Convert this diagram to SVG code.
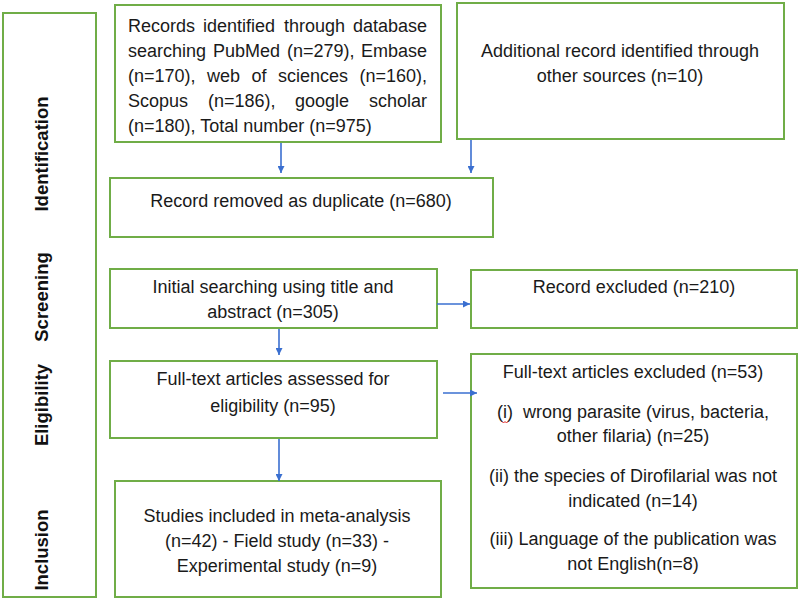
<svg xmlns="http://www.w3.org/2000/svg" width="800" height="600" viewBox="0 0 800 600">
<defs>
<marker id="ah" viewBox="0 0 10 10" refX="10" refY="5" markerWidth="7" markerHeight="7" markerUnits="userSpaceOnUse" orient="auto">
<path d="M0,0 L10,5 L0,10 z" fill="#3a6fd0"/>
</marker>
<style>
.box{fill:#fff;stroke:#70ad47;stroke-width:2}
.t{font-family:"Liberation Sans",Arial,sans-serif;font-size:18px;fill:#1a1a1a}
.c{text-anchor:middle}
.e{text-anchor:end}
.ph{font-family:"Liberation Sans",Arial,sans-serif;font-size:18.5px;font-weight:bold;fill:#111;text-anchor:middle}
.arr{stroke:#3a6fd0;stroke-width:1.6;fill:none;marker-end:url(#ah)}
</style>
</defs>
<rect width="800" height="600" fill="#fff"/>
<g id="phases">
<rect class="box" x="3" y="13" width="93" height="584"/>
<text class="ph" transform="translate(48,154) rotate(-90)">Identification</text>
<text class="ph" transform="translate(48,297) rotate(-90)">Screening</text>
<text class="ph" transform="translate(48,405) rotate(-90)">Eligibility</text>
<text class="ph" transform="translate(48,550) rotate(-90)">Inclusion</text>
</g>
<g id="n-records">
<rect class="box" x="115" y="5" width="326" height="137"/>
<text class="t" x="128" y="32">Records</text><text class="t" x="203" y="32">identified</text><text class="t" x="284" y="32">through</text><text class="t e" x="427" y="32">database</text>
<text class="t" x="128" y="57">searching</text><text class="t" x="213" y="57">PubMed</text><text class="t" x="287" y="57">(n=279),</text><text class="t e" x="427" y="57">Embase</text>
<text class="t" x="128" y="82">(n=170),</text><text class="t" x="207" y="82">web</text><text class="t" x="251.5" y="82">of</text><text class="t" x="278" y="82">sciences</text><text class="t e" x="427" y="82">(n=160),</text>
<text class="t" x="128" y="107">Scopus</text><text class="t" x="208" y="107">(n=186),</text><text class="t" x="295" y="107">google</text><text class="t e" x="427" y="107">scholar</text>
<text class="t" x="128" y="132">(n=180), Total number (n=975)</text>
</g>
<g id="n-additional">
<rect class="box" x="457" y="3" width="327" height="136"/>
<text class="t c" x="620" y="57">Additional record identified through</text>
<text class="t c" x="620" y="82">other sources (n=10)</text>
</g>
<g id="n-duplicate">
<rect class="box" x="110" y="178" width="383" height="59"/>
<text class="t c" x="301" y="207">Record removed as duplicate (n=680)</text>
</g>
<g id="n-screening">
<rect class="box" x="110" y="269" width="327" height="59"/>
<text class="t c" x="273" y="293">Initial searching using title and</text>
<text class="t c" x="273" y="318">abstract (n=305)</text>
</g>
<g id="n-excluded">
<rect class="box" x="471" y="270" width="326" height="58"/>
<text class="t c" x="634" y="293">Record excluded (n=210)</text>
</g>
<g id="n-eligibility">
<rect class="box" x="110" y="361" width="327" height="77"/>
<text class="t c" x="273" y="385">Full-text articles assessed for</text>
<text class="t c" x="273" y="412">eligibility (n=95)</text>
</g>
<g id="n-fulltext-excluded">
<rect class="box" x="471" y="354" width="326" height="234"/>
<text class="t c" x="633" y="378">Full-text articles excluded (n=53)</text>
<text class="t c" x="633" y="418" xml:space="preserve">(i)  wrong parasite (virus, bacteria,</text>
<text class="t c" x="633" y="442">other filaria) (n=25)</text>
<text class="t c" x="633" y="482">(ii) the species of Dirofilarial was not</text>
<text class="t c" x="633" y="507">indicated (n=14)</text>
<text class="t c" x="633" y="545">(iii) Language of the publication was</text>
<text class="t c" x="633" y="570">not English(n=8)</text>
<path d="M502,421.5 l1.5,1.5 l1.5,-1.5 l1.5,1.5 l1.5,-1.5" stroke="#e02020" stroke-width="1" fill="none"/>
</g>
<g id="n-inclusion">
<rect class="box" x="115" y="481" width="326" height="116"/>
<text class="t c" x="277" y="522">Studies included in meta-analysis</text>
<text class="t c" x="277" y="547">(n=42) - Field study (n=33) -</text>
<text class="t c" x="277" y="572">Experimental study (n=9)</text>
</g>
<g id="connectors">
<line class="arr" x1="281" y1="143" x2="281" y2="173"/>
<line class="arr" x1="471" y1="140" x2="471" y2="173"/>
<line class="arr" x1="437" y1="304" x2="470" y2="304"/>
<line class="arr" x1="279" y1="329" x2="279" y2="355"/>
<line class="arr" x1="443" y1="393" x2="477" y2="393"/>
<line class="arr" x1="279" y1="439" x2="279" y2="481"/>
</g>
</svg>
